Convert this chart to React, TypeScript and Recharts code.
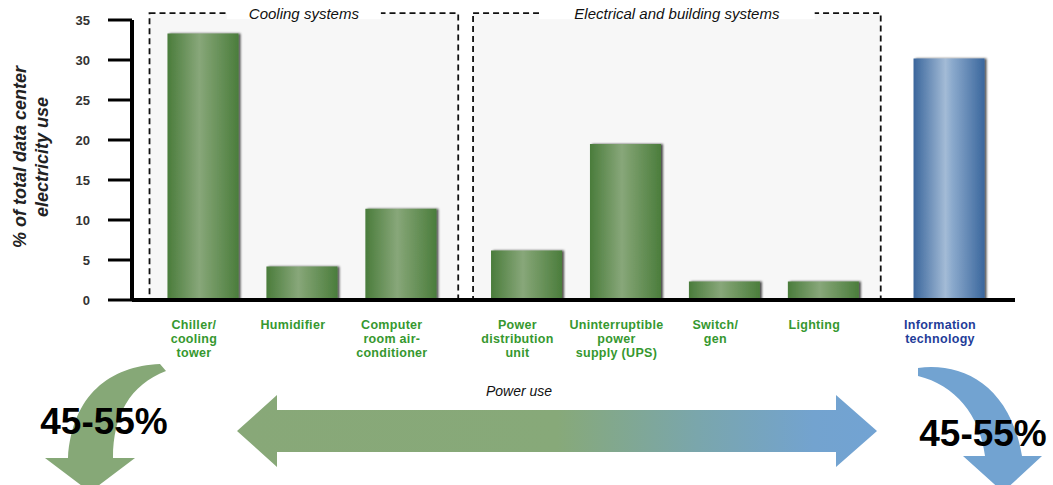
import React from "react";
import { BarChart, Bar, XAxis, YAxis, Cell, ReferenceArea, Customized } from "recharts";

const categories = [
  "Chiller/\ncooling\ntower",
  "Humidifier",
  "Computer\nroom air-\nconditioner",
  "Power\ndistribution\nunit",
  "Uninterruptible\npower\nsupply (UPS)",
  "Switch/\ngen",
  "Lighting",
  "Information\ntechnology",
];
const groups = ["cooling", "cooling", "cooling", "electrical", "electrical", "electrical", "electrical", "it"];
const values = [33.3, 4.2, 11.4, 6.2, 19.5, 2.3, 2.3, 30.2];
const yTicks = [0, 5, 10, 15, 20, 25, 30, 35];
const groupTitles: Record<string, string> = {
  cooling: "Cooling systems",
  electrical: "Electrical and building systems",
};
const yLabelLines = ["% of total data center", "electricity use"];
const flowLabel = "Power use";
const shareLabel = "45-55%";

const FONT = "'Liberation Sans', Arial, sans-serif";
const GROUP_GAP = 0.27;
const groupOrder = Array.from(new Set(groups));
const xs = categories.map((_, i) => i + GROUP_GAP * groupOrder.indexOf(groups[i]));
const data = categories.map((c, i) => ({ name: c, x: xs[i], value: values[i], group: groups[i] }));
const xDomain: [number, number] = [xs[0] - 0.717, xs[xs.length - 1] + 0.667];

const boxGroups = Object.keys(groupTitles).map((g) => {
  const idx = groups.map((v, i) => (v === g ? i : -1)).filter((i) => i >= 0);
  return { key: g, title: groupTitles[g], x1: xs[idx[0]] - 0.54, x2: xs[idx[idx.length - 1]] + 0.58 };
});

const CategoryTick = (props: any) => {
  const { x, y, payload } = props;
  const i = xs.findIndex((v) => Math.abs(v - payload.value) < 1e-6);
  if (i < 0) return null;
  const lines = categories[i].split("\n");
  const color = groups[i] === "it" ? "#1f3d99" : "#36982f";
  const cx = x - 9;
  return (
    <text x={cx} y={y} textAnchor="middle" fill={color} fontSize={12.5} fontWeight="bold" fontFamily={FONT} letterSpacing={0.3}>
      {lines.map((l, k) => (
        <tspan key={k} x={cx} dy={k === 0 ? 29 : 14}>
          {l}
        </tspan>
      ))}
    </text>
  );
};

const GroupTitle = (props: any) => {
  const { viewBox, text } = props;
  if (!viewBox) return null;
  const { x, y, width } = viewBox;
  const cx = x + width / 2;
  const w = text.length * 7.6 + 40;
  return (
    <g>
      <rect x={cx - w / 2} y={y - 12} width={w} height={18} fill="#ffffff" />
      <text x={cx} y={y + 6} textAnchor="middle" fontStyle="italic" fontSize={15} fill="#111" fontFamily={FONT}>
        {text}
      </text>
    </g>
  );
};

const Decorations = () => (
  <g>
    <defs>
      <linearGradient id="greenBar" x1="0" y1="0" x2="1" y2="0">
        <stop offset="0" stopColor="#4a7c3b" />
        <stop offset="0.45" stopColor="#88a77a" />
        <stop offset="0.55" stopColor="#7c9f6d" />
        <stop offset="1" stopColor="#4b7d3c" />
      </linearGradient>
      <linearGradient id="blueBar" x1="0" y1="0" x2="1" y2="0">
        <stop offset="0" stopColor="#3a669c" />
        <stop offset="0.45" stopColor="#a3bbd6" />
        <stop offset="0.55" stopColor="#8aa9cc" />
        <stop offset="1" stopColor="#3b679d" />
      </linearGradient>
      <linearGradient id="flowGrad" x1="237" y1="0" x2="877" y2="0" gradientUnits="userSpaceOnUse">
        <stop offset="0" stopColor="#88a878" />
        <stop offset="0.5" stopColor="#87a979" />
        <stop offset="0.72" stopColor="#7aa6ac" />
        <stop offset="0.9" stopColor="#73a3cf" />
        <stop offset="1" stopColor="#72a3d3" />
      </linearGradient>
      <filter id="barShadow" x="-10%" y="-10%" width="130%" height="120%">
        <feDropShadow dx="2" dy="0" stdDeviation="1" floodColor="#000" floodOpacity="0.7" />
      </filter>
      <filter id="axisBlur" x="-5%" y="-200%" width="110%" height="500%">
        <feGaussianBlur stdDeviation="1.5" />
      </filter>
    </defs>
    <line x1={134} y1={304} x2={1014} y2={304} stroke="#777" strokeWidth={3} filter="url(#axisBlur)" />
    <text transform="rotate(-90, 20, 157)" x={20} y={157} dy="0.35em" textAnchor="middle" fontSize={18} fontWeight="bold" fontStyle="italic" fill="#222" fontFamily={FONT}>
      {yLabelLines[0]}
    </text>
    <text transform="rotate(-90, 42, 157)" x={42} y={157} dy="0.35em" textAnchor="middle" fontSize={18} fontWeight="bold" fontStyle="italic" fill="#222" fontFamily={FONT}>
      {yLabelLines[1]}
    </text>
    <path d="M237,431 L277,395 L277,410 L836,410 L836,395 L877,431 L836,467 L836,452 L277,452 L277,467 Z" fill="url(#flowGrad)" />
    <text x={519} y={396} textAnchor="middle" fontSize={14} fontStyle="italic" fill="#111" fontFamily={FONT}>
      {flowLabel}
    </text>
    <path d="M160,364 C110,366 72,395 68,458 L45,458 L90,492 L135,458 L113,458 C113,415 130,385 166,371 Z" fill="#86a877" />
    <path d="M918,368 C962,362 1010,385 1022,456 L1042,456 L1003,492 L963,456 L985,456 C980,415 955,385 918,376 Z" fill="#72a3d1" />
    <text x={104} y={434} textAnchor="middle" fontSize={37} fontWeight="bold" fill="#000" fontFamily={FONT}>
      {shareLabel}
    </text>
    <text x={983} y={446} textAnchor="middle" fontSize={37} fontWeight="bold" fill="#000" fontFamily={FONT}>
      {shareLabel}
    </text>
  </g>
);

export default function App() {
  return (
    <div style={{ position: "absolute", left: 0, top: 0, width: 1053, height: 485, background: "#fff" }}>
      <BarChart width={1053} height={485} data={data} margin={{ top: 20, right: 38, left: 0, bottom: 0 }}>
        <Customized component={<Decorations />} />
        {boxGroups.map((b) => (
          <ReferenceArea
            key={b.key}
            x1={b.x1}
            x2={b.x2}
            y1={0}
            y2={35.85}
            ifOverflow="visible"
            fill="#f7f7f7"
            fillOpacity={1}
            stroke="#111"
            strokeWidth={1.8}
            strokeDasharray="6 4"
            label={(p: any) => <GroupTitle {...p} text={b.title} />}
          />
        ))}
        <XAxis
          type="number"
          dataKey="x"
          domain={xDomain}
          allowDataOverflow
          ticks={xs}
          interval={0}
          tick={<CategoryTick />}
          tickLine={false}
          tickSize={0}
          tickMargin={0}
          height={185}
          axisLine={{ stroke: "#000", strokeWidth: 4 }}
        />
        <YAxis
          type="number"
          domain={[0, 35]}
          ticks={yTicks}
          interval={0}
          width={132}
          tickSize={24}
          tickMargin={18}
          tickLine={{ stroke: "#000", strokeWidth: 3 }}
          axisLine={{ stroke: "#000", strokeWidth: 4 }}
          tick={{ fill: "#333", fontSize: 13, fontWeight: "bold", fontFamily: FONT }}
        />
        <Bar dataKey="value" barSize={71} isAnimationActive={false}>
          {data.map((d, i) => (
            <Cell key={i} fill={d.group === "it" ? "url(#blueBar)" : "url(#greenBar)"} filter="url(#barShadow)" />
          ))}
        </Bar>
      </BarChart>
    </div>
  );
}
